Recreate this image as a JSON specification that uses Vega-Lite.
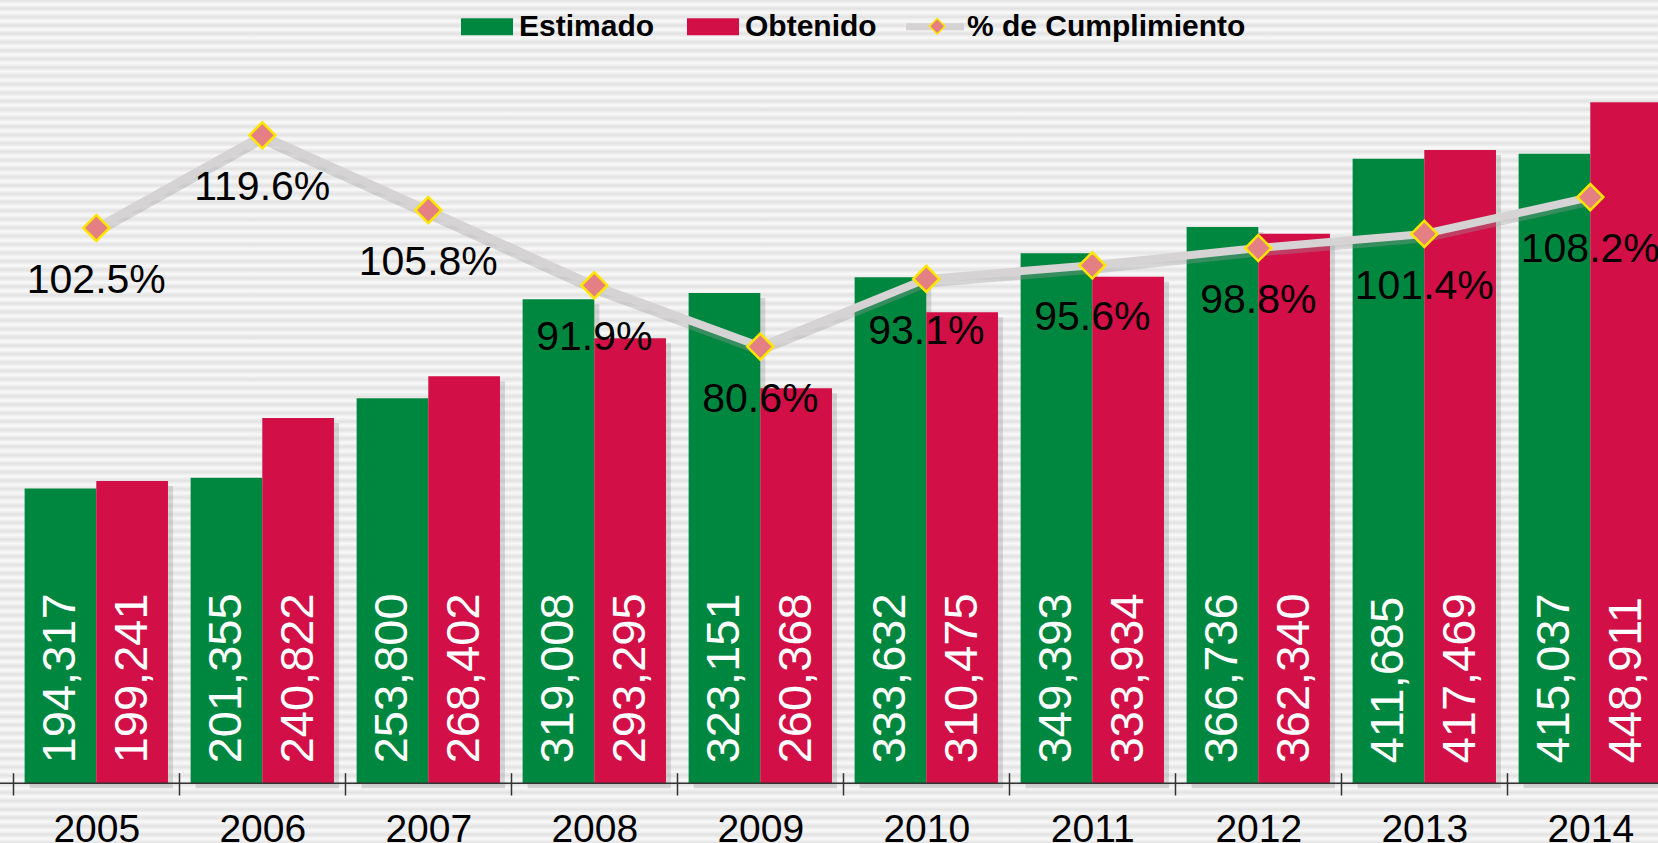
{
  "$schema": "https://vega.github.io/schema/vega-lite/v6.json",
  "width": 1658,
  "height": 843,
  "autosize": {"type": "none"},
  "padding": 0,
  "background": "#efefef",
  "usermeta": {"embedOptions": {"actions": false}},
  "config": {
    "view": {"stroke": null},
    "font": "Liberation Sans"
  },
  "datasets": {
    "bars": [
      {"year": "2005", "serie": "Estimado", "value": 194317},
      {"year": "2005", "serie": "Obtenido", "value": 199241},
      {"year": "2006", "serie": "Estimado", "value": 201355},
      {"year": "2006", "serie": "Obtenido", "value": 240822},
      {"year": "2007", "serie": "Estimado", "value": 253800},
      {"year": "2007", "serie": "Obtenido", "value": 268402},
      {"year": "2008", "serie": "Estimado", "value": 319008},
      {"year": "2008", "serie": "Obtenido", "value": 293295},
      {"year": "2009", "serie": "Estimado", "value": 323151},
      {"year": "2009", "serie": "Obtenido", "value": 260368},
      {"year": "2010", "serie": "Estimado", "value": 333632},
      {"year": "2010", "serie": "Obtenido", "value": 310475},
      {"year": "2011", "serie": "Estimado", "value": 349393},
      {"year": "2011", "serie": "Obtenido", "value": 333934},
      {"year": "2012", "serie": "Estimado", "value": 366736},
      {"year": "2012", "serie": "Obtenido", "value": 362340},
      {"year": "2013", "serie": "Estimado", "value": 411685},
      {"year": "2013", "serie": "Obtenido", "value": 417469},
      {"year": "2014", "serie": "Estimado", "value": 415037},
      {"year": "2014", "serie": "Obtenido", "value": 448911}
    ],
    "pct": [
      {"year": "2005", "serie": "% de Cumplimiento", "pct": 1.025},
      {"year": "2006", "serie": "% de Cumplimiento", "pct": 1.196},
      {"year": "2007", "serie": "% de Cumplimiento", "pct": 1.058},
      {"year": "2008", "serie": "% de Cumplimiento", "pct": 0.919},
      {"year": "2009", "serie": "% de Cumplimiento", "pct": 0.806},
      {"year": "2010", "serie": "% de Cumplimiento", "pct": 0.931},
      {"year": "2011", "serie": "% de Cumplimiento", "pct": 0.956},
      {"year": "2012", "serie": "% de Cumplimiento", "pct": 0.988},
      {"year": "2013", "serie": "% de Cumplimiento", "pct": 1.014},
      {"year": "2014", "serie": "% de Cumplimiento", "pct": 1.082}
    ]
  },
  "layer": [
    {
      "data": {"values": [{"bg": 1}]},
      "mark": {
        "type": "rect",
        "color": {
          "gradient": "linear", "x1": 0, "y1": 0, "x2": 0, "y2": 1,
          "stops": [
            {"offset":0,"color":"#e2e2e2"},{"offset":0.005,"color":"#f9f9f9"},{"offset":0.01,"color":"#e2e2e2"},{"offset":0.015,"color":"#f9f9f9"},
            {"offset":0.02,"color":"#e2e2e2"},{"offset":0.025,"color":"#f9f9f9"},{"offset":0.03,"color":"#e2e2e2"},{"offset":0.035,"color":"#f9f9f9"},
            {"offset":0.04,"color":"#e2e2e2"},{"offset":0.045,"color":"#f9f9f9"},{"offset":0.05,"color":"#e2e2e2"},{"offset":0.055,"color":"#f9f9f9"},
            {"offset":0.06,"color":"#e2e2e2"},{"offset":0.065,"color":"#f9f9f9"},{"offset":0.07,"color":"#e2e2e2"},{"offset":0.075,"color":"#f9f9f9"},
            {"offset":0.08,"color":"#e2e2e2"},{"offset":0.085,"color":"#f9f9f9"},{"offset":0.09,"color":"#e2e2e2"},{"offset":0.095,"color":"#f9f9f9"},
            {"offset":0.1,"color":"#e2e2e2"},{"offset":0.105,"color":"#f9f9f9"},{"offset":0.11,"color":"#e2e2e2"},{"offset":0.115,"color":"#f9f9f9"},
            {"offset":0.12,"color":"#e2e2e2"},{"offset":0.125,"color":"#f9f9f9"},{"offset":0.13,"color":"#e2e2e2"},{"offset":0.135,"color":"#f9f9f9"},
            {"offset":0.14,"color":"#e2e2e2"},{"offset":0.145,"color":"#f9f9f9"},{"offset":0.15,"color":"#e2e2e2"},{"offset":0.155,"color":"#f9f9f9"},
            {"offset":0.16,"color":"#e2e2e2"},{"offset":0.165,"color":"#f9f9f9"},{"offset":0.17,"color":"#e2e2e2"},{"offset":0.175,"color":"#f9f9f9"},
            {"offset":0.18,"color":"#e2e2e2"},{"offset":0.185,"color":"#f9f9f9"},{"offset":0.19,"color":"#e2e2e2"},{"offset":0.195,"color":"#f9f9f9"},
            {"offset":0.2,"color":"#e2e2e2"},{"offset":0.205,"color":"#f9f9f9"},{"offset":0.21,"color":"#e2e2e2"},{"offset":0.215,"color":"#f9f9f9"},
            {"offset":0.22,"color":"#e2e2e2"},{"offset":0.225,"color":"#f9f9f9"},{"offset":0.23,"color":"#e2e2e2"},{"offset":0.235,"color":"#f9f9f9"},
            {"offset":0.24,"color":"#e2e2e2"},{"offset":0.245,"color":"#f9f9f9"},{"offset":0.25,"color":"#e2e2e2"},{"offset":0.255,"color":"#f9f9f9"},
            {"offset":0.26,"color":"#e2e2e2"},{"offset":0.265,"color":"#f9f9f9"},{"offset":0.27,"color":"#e2e2e2"},{"offset":0.275,"color":"#f9f9f9"},
            {"offset":0.28,"color":"#e2e2e2"},{"offset":0.285,"color":"#f9f9f9"},{"offset":0.29,"color":"#e2e2e2"},{"offset":0.295,"color":"#f9f9f9"},
            {"offset":0.3,"color":"#e2e2e2"},{"offset":0.305,"color":"#f9f9f9"},{"offset":0.31,"color":"#e2e2e2"},{"offset":0.315,"color":"#f9f9f9"},
            {"offset":0.32,"color":"#e2e2e2"},{"offset":0.325,"color":"#f9f9f9"},{"offset":0.33,"color":"#e2e2e2"},{"offset":0.335,"color":"#f9f9f9"},
            {"offset":0.34,"color":"#e2e2e2"},{"offset":0.345,"color":"#f9f9f9"},{"offset":0.35,"color":"#e2e2e2"},{"offset":0.355,"color":"#f9f9f9"},
            {"offset":0.36,"color":"#e2e2e2"},{"offset":0.365,"color":"#f9f9f9"},{"offset":0.37,"color":"#e2e2e2"},{"offset":0.375,"color":"#f9f9f9"},
            {"offset":0.38,"color":"#e2e2e2"},{"offset":0.385,"color":"#f9f9f9"},{"offset":0.39,"color":"#e2e2e2"},{"offset":0.395,"color":"#f9f9f9"},
            {"offset":0.4,"color":"#e2e2e2"},{"offset":0.405,"color":"#f9f9f9"},{"offset":0.41,"color":"#e2e2e2"},{"offset":0.415,"color":"#f9f9f9"},
            {"offset":0.42,"color":"#e2e2e2"},{"offset":0.425,"color":"#f9f9f9"},{"offset":0.43,"color":"#e2e2e2"},{"offset":0.435,"color":"#f9f9f9"},
            {"offset":0.44,"color":"#e2e2e2"},{"offset":0.445,"color":"#f9f9f9"},{"offset":0.45,"color":"#e2e2e2"},{"offset":0.455,"color":"#f9f9f9"},
            {"offset":0.46,"color":"#e2e2e2"},{"offset":0.465,"color":"#f9f9f9"},{"offset":0.47,"color":"#e2e2e2"},{"offset":0.475,"color":"#f9f9f9"},
            {"offset":0.48,"color":"#e2e2e2"},{"offset":0.485,"color":"#f9f9f9"},{"offset":0.49,"color":"#e2e2e2"},{"offset":0.495,"color":"#f9f9f9"},
            {"offset":0.5,"color":"#e2e2e2"},{"offset":0.505,"color":"#f9f9f9"},{"offset":0.51,"color":"#e2e2e2"},{"offset":0.515,"color":"#f9f9f9"},
            {"offset":0.52,"color":"#e2e2e2"},{"offset":0.525,"color":"#f9f9f9"},{"offset":0.53,"color":"#e2e2e2"},{"offset":0.535,"color":"#f9f9f9"},
            {"offset":0.54,"color":"#e2e2e2"},{"offset":0.545,"color":"#f9f9f9"},{"offset":0.55,"color":"#e2e2e2"},{"offset":0.555,"color":"#f9f9f9"},
            {"offset":0.56,"color":"#e2e2e2"},{"offset":0.565,"color":"#f9f9f9"},{"offset":0.57,"color":"#e2e2e2"},{"offset":0.575,"color":"#f9f9f9"},
            {"offset":0.58,"color":"#e2e2e2"},{"offset":0.585,"color":"#f9f9f9"},{"offset":0.59,"color":"#e2e2e2"},{"offset":0.595,"color":"#f9f9f9"},
            {"offset":0.6,"color":"#e2e2e2"},{"offset":0.605,"color":"#f9f9f9"},{"offset":0.61,"color":"#e2e2e2"},{"offset":0.615,"color":"#f9f9f9"},
            {"offset":0.62,"color":"#e2e2e2"},{"offset":0.625,"color":"#f9f9f9"},{"offset":0.63,"color":"#e2e2e2"},{"offset":0.635,"color":"#f9f9f9"},
            {"offset":0.64,"color":"#e2e2e2"},{"offset":0.645,"color":"#f9f9f9"},{"offset":0.65,"color":"#e2e2e2"},{"offset":0.655,"color":"#f9f9f9"},
            {"offset":0.66,"color":"#e2e2e2"},{"offset":0.665,"color":"#f9f9f9"},{"offset":0.67,"color":"#e2e2e2"},{"offset":0.675,"color":"#f9f9f9"},
            {"offset":0.68,"color":"#e2e2e2"},{"offset":0.685,"color":"#f9f9f9"},{"offset":0.69,"color":"#e2e2e2"},{"offset":0.695,"color":"#f9f9f9"},
            {"offset":0.7,"color":"#e2e2e2"},{"offset":0.705,"color":"#f9f9f9"},{"offset":0.71,"color":"#e2e2e2"},{"offset":0.715,"color":"#f9f9f9"},
            {"offset":0.72,"color":"#e2e2e2"},{"offset":0.725,"color":"#f9f9f9"},{"offset":0.73,"color":"#e2e2e2"},{"offset":0.735,"color":"#f9f9f9"},
            {"offset":0.74,"color":"#e2e2e2"},{"offset":0.745,"color":"#f9f9f9"},{"offset":0.75,"color":"#e2e2e2"},{"offset":0.755,"color":"#f9f9f9"},
            {"offset":0.76,"color":"#e2e2e2"},{"offset":0.765,"color":"#f9f9f9"},{"offset":0.77,"color":"#e2e2e2"},{"offset":0.775,"color":"#f9f9f9"},
            {"offset":0.78,"color":"#e2e2e2"},{"offset":0.785,"color":"#f9f9f9"},{"offset":0.79,"color":"#e2e2e2"},{"offset":0.795,"color":"#f9f9f9"},
            {"offset":0.8,"color":"#e2e2e2"},{"offset":0.805,"color":"#f9f9f9"},{"offset":0.81,"color":"#e2e2e2"},{"offset":0.815,"color":"#f9f9f9"},
            {"offset":0.82,"color":"#e2e2e2"},{"offset":0.825,"color":"#f9f9f9"},{"offset":0.83,"color":"#e2e2e2"},{"offset":0.835,"color":"#f9f9f9"},
            {"offset":0.84,"color":"#e2e2e2"},{"offset":0.845,"color":"#f9f9f9"},{"offset":0.85,"color":"#e2e2e2"},{"offset":0.855,"color":"#f9f9f9"},
            {"offset":0.86,"color":"#e2e2e2"},{"offset":0.865,"color":"#f9f9f9"},{"offset":0.87,"color":"#e2e2e2"},{"offset":0.875,"color":"#f9f9f9"},
            {"offset":0.88,"color":"#e2e2e2"},{"offset":0.885,"color":"#f9f9f9"},{"offset":0.89,"color":"#e2e2e2"},{"offset":0.895,"color":"#f9f9f9"},
            {"offset":0.9,"color":"#e2e2e2"},{"offset":0.905,"color":"#f9f9f9"},{"offset":0.91,"color":"#e2e2e2"},{"offset":0.915,"color":"#f9f9f9"},
            {"offset":0.92,"color":"#e2e2e2"},{"offset":0.925,"color":"#f9f9f9"},{"offset":0.93,"color":"#e2e2e2"},{"offset":0.935,"color":"#f9f9f9"},
            {"offset":0.94,"color":"#e2e2e2"},{"offset":0.945,"color":"#f9f9f9"},{"offset":0.95,"color":"#e2e2e2"},{"offset":0.955,"color":"#f9f9f9"},
            {"offset":0.96,"color":"#e2e2e2"},{"offset":0.965,"color":"#f9f9f9"},{"offset":0.97,"color":"#e2e2e2"},{"offset":0.975,"color":"#f9f9f9"},
            {"offset":0.98,"color":"#e2e2e2"},{"offset":0.985,"color":"#f9f9f9"},{"offset":0.99,"color":"#e2e2e2"},{"offset":0.995,"color":"#f9f9f9"},
            {"offset":1,"color":"#e2e2e2"}
          ]
        }
      },
      "encoding": {}
    },
    {
      "data": {"name": "bars"},
      "mark": {"type": "bar", "color": "#8a8a8a", "opacity": 0.3},
      "encoding": {
        "x": {"field": "year", "type": "nominal", "title": null,
              "scale": {"range": [13.3, 1673.3], "paddingInner": 0, "paddingOuter": 0},
              "axis": {"offset": -70.3, "tickSize": 22.3, "tickBand": "extent", "domain": false, "grid": false,
                       "zindex": 3, "tickColor": "#333333", "tickWidth": 1.5,
                       "labelFontSize": 39, "labelColor": "#000000", "labelFont": "Liberation Sans",
                       "labelBaseline": "alphabetic", "labelPadding": 46, "labelAngle": 0,
                       "labelOverlap": false, "labelFlush": false, "labelBound": false, "title": null}},
        "xOffset": {"field": "serie", "type": "nominal",
                    "scale": {"type": "band", "domain": ["Estimado", "Obtenido"], "range": [5, 171], "paddingInner": 0, "paddingOuter": 0.158}},
        "y": {"field": "value", "type": "quantitative", "axis": null,
              "scale": {"domain": [0, 500000], "range": [788.3, 29.8], "nice": false, "zero": true}}
      }
    },
    {
      "data": {"name": "bars"},
      "mark": {"type": "bar"},
      "encoding": {
        "x": {"field": "year", "type": "nominal", "title": null,
              "scale": {"range": [13.3, 1673.3], "paddingInner": 0, "paddingOuter": 0}},
        "xOffset": {"field": "serie", "type": "nominal",
                    "scale": {"type": "band", "domain": ["Estimado", "Obtenido"], "paddingInner": 0, "paddingOuter": 0.158}},
        "y": {"field": "value", "type": "quantitative", "axis": null,
              "scale": {"domain": [0, 500000], "range": [783.3, 24.8], "nice": false, "zero": true}},
        "color": {"field": "serie", "type": "nominal",
                  "scale": {"domain": ["Estimado", "Obtenido", "% de Cumplimiento"], "range": ["#00873f", "#d20f46", "#d5d3d3"]},
                  "legend": {
                    "orient": "none", "legendX": 458, "legendY": -2.3, "direction": "horizontal",
                    "title": null, "padding": 0,
                    "symbolSize": 3364, "symbolType": "M-0.897,-0.293H0.897V0.293H-0.897Z",
                    "symbolStrokeWidth": 0, "symbolOpacity": 1,
                    "labelFontSize": 30, "labelFontWeight": "bold", "labelFont": "Liberation Sans",
                    "labelColor": "#000000", "labelOffset": 3, "labelLimit": 500, "columnPadding": 29,
                    "encode": {"symbols": {"update": {
                      "shape": {"signal": "datum.value === '% de Cumplimiento' ? 'M-1,-0.121H1V0.121H-1Z' : 'M-0.897,-0.293H0.897V0.293H-0.897Z'"},
                      "fill": {"scale": "color", "field": "value"},
                      "stroke": {"value": "transparent"},
                      "opacity": {"value": 1}
                    }}}
                  }}
      }
    },
    {
      "data": {"name": "bars"},
      "mark": {"type": "text", "angle": 270, "align": "left", "baseline": "middle", "dx": 20, "dy": 1,
               "fontSize": 47, "color": "#ffffff", "font": "Liberation Sans"},
      "encoding": {
        "x": {"field": "year", "type": "nominal", "title": null,
              "scale": {"range": [13.3, 1673.3], "paddingInner": 0, "paddingOuter": 0}},
        "xOffset": {"field": "serie", "type": "nominal",
                    "scale": {"type": "band", "domain": ["Estimado", "Obtenido"], "paddingInner": 0, "paddingOuter": 0.158}},
        "y": {"datum": 0, "type": "quantitative", "axis": null,
              "scale": {"domain": [0, 500000], "range": [783.3, 24.8], "nice": false}},
        "text": {"field": "value", "type": "quantitative", "format": ",d"}
      }
    },
    {
      "data": {"values": [{"base": 0}]},
      "mark": {"type": "rule", "color": "#333333", "strokeWidth": 1.5},
      "encoding": {
        "y": {"field": "base", "type": "quantitative", "axis": null,
              "scale": {"domain": [0, 500000], "range": [783.3, 24.8], "nice": false}}
      }
    },
    {
      "data": {"name": "pct"},
      "mark": {"type": "line", "strokeWidth": 9, "color": "#9c9c9c", "opacity": 0.35, "strokeJoin": "round"},
      "encoding": {
        "x": {"field": "year", "type": "nominal", "title": null,
              "scale": {"range": [13.3, 1673.3], "paddingInner": 0, "paddingOuter": 0}},
        "y": {"field": "pct", "type": "quantitative", "axis": null,
              "scale": {"domain": [0, 1.4], "range": [787.3, 28.8], "nice": false}}
      }
    },
    {
      "data": {"name": "pct"},
      "mark": {"type": "line", "strokeWidth": 8, "strokeCap": "butt", "strokeJoin": "round"},
      "encoding": {
        "x": {"field": "year", "type": "nominal", "title": null,
              "scale": {"range": [13.3, 1673.3], "paddingInner": 0, "paddingOuter": 0}},
        "y": {"field": "pct", "type": "quantitative", "axis": null,
              "scale": {"domain": [0, 1.4], "range": [783.3, 24.8], "nice": false}},
        "color": {"field": "serie", "type": "nominal",
                  "scale": {"domain": ["Estimado", "Obtenido", "% de Cumplimiento"], "range": ["#00873f", "#d20f46", "#d5d3d3"]},
                  "legend": {
                    "orient": "none", "legendX": 458, "legendY": -2.3, "direction": "horizontal",
                    "title": null, "padding": 0,
                    "symbolSize": 3364, "symbolType": "M-0.897,-0.293H0.897V0.293H-0.897Z",
                    "symbolStrokeWidth": 0, "symbolOpacity": 1,
                    "labelFontSize": 30, "labelFontWeight": "bold", "labelFont": "Liberation Sans",
                    "labelColor": "#000000", "labelOffset": 3, "labelLimit": 500, "columnPadding": 29,
                    "encode": {"symbols": {"update": {
                      "shape": {"signal": "datum.value === '% de Cumplimiento' ? 'M-1,-0.121H1V0.121H-1Z' : 'M-0.897,-0.293H0.897V0.293H-0.897Z'"},
                      "fill": {"scale": "color", "field": "value"},
                      "stroke": {"value": "transparent"},
                      "opacity": {"value": 1}
                    }}}
                  }}
      }
    },
    {
      "data": {"name": "pct"},
      "mark": {"type": "point", "filled": true, "fill": "#e47f84", "stroke": "#ffe600", "strokeWidth": 2.5, "size": 680, "opacity": 1},
      "encoding": {
        "x": {"field": "year", "type": "nominal", "title": null,
              "scale": {"range": [13.3, 1673.3], "paddingInner": 0, "paddingOuter": 0}},
        "y": {"field": "pct", "type": "quantitative", "axis": null,
              "scale": {"domain": [0, 1.4], "range": [783.3, 24.8], "nice": false}},
        "shape": {"field": "serie", "type": "nominal",
                  "scale": {"domain": ["% de Cumplimiento"], "range": ["diamond"]},
                  "legend": {
                    "orient": "none", "legendX": 928.7, "legendY": 17.7, "title": null, "padding": 0,
                    "symbolSize": 240, "symbolType": "diamond", "labelExpr": "''", "labelFontSize": 1,
                    "encode": {"symbols": {"update": {
                      "fill": {"value": "#e47f84"}, "stroke": {"value": "#ffe600"},
                      "strokeWidth": {"value": 2}, "opacity": {"value": 1}
                    }}}
                  }}
      }
    },
    {
      "data": {"name": "pct"},
      "mark": {"type": "text", "baseline": "alphabetic", "align": "center", "dy": 65,
               "fontSize": 41, "color": "#000000", "font": "Liberation Sans"},
      "encoding": {
        "x": {"field": "year", "type": "nominal", "title": null,
              "scale": {"range": [13.3, 1673.3], "paddingInner": 0, "paddingOuter": 0}},
        "y": {"field": "pct", "type": "quantitative", "axis": null,
              "scale": {"domain": [0, 1.4], "range": [783.3, 24.8], "nice": false}},
        "text": {"field": "pct", "type": "quantitative", "format": ".1%"}
      }
    }
  ],
  "resolve": {"scale": {"y": "independent", "xOffset": "independent"}}
}
